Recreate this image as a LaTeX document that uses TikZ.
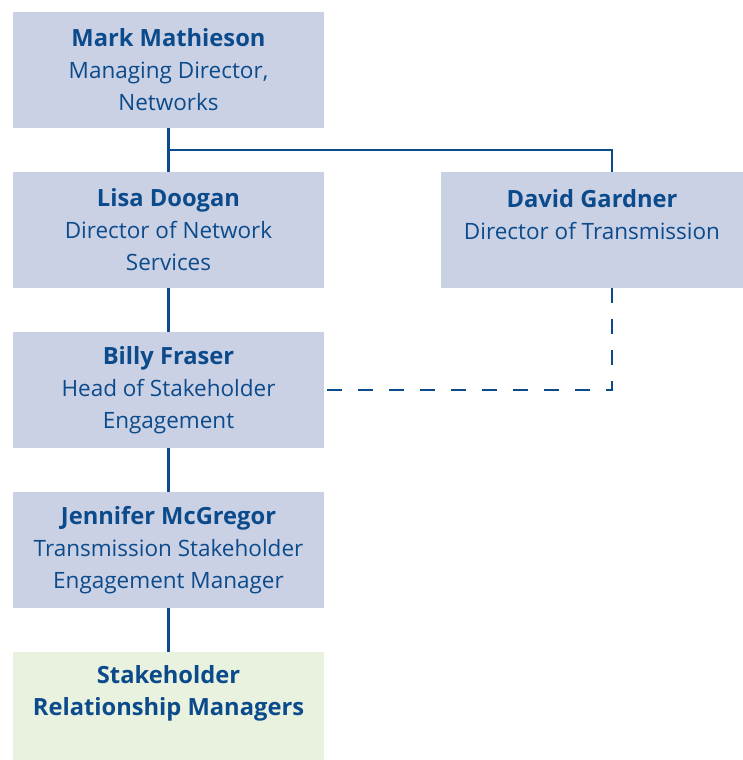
\documentclass[tikz,border=0pt]{standalone}
\usepackage{fontspec}
\setmainfont{Open Sans}
\usetikzlibrary{positioning}
\definecolor{navy}{HTML}{0B4A8B}
\definecolor{boxblue}{HTML}{CBD1E4}
\definecolor{boxgreen}{HTML}{E9F2DE}
\newcommand\who[1]{{\fontsize{23.7}{32}\selectfont\bfseries #1}}

\begin{document}
\begin{tikzpicture}[x=1pt, y=-1pt,
                    box/.style={fill=boxblue, text=navy, align=center, inner sep=0,
                                minimum width=311pt, minimum height=116pt,
                                font=\fontsize{22.5}{32}\selectfont},
                    link/.style={draw=navy, line width=2.8pt}]
                \useasboundingbox (0,0) rectangle (743,760);

                \node [box] (md) at (168.5,70) {\who{Mark Mathieson}\\Managing Director,\\Networks};
                \node [box] (dns) at (168.5,230) {\who{Lisa Doogan}\\Director of Network\\Services};
                \node [box, minimum width=302pt] (dtr) at (592,230) {\who{David Gardner}\\Director of Transmission\\\mbox{}};
                \node [box] (hse) at (168.5,390) {\who{Billy Fraser}\\Head of Stakeholder\\Engagement};
                \node [box] (tsem) at (168.5,550) {\who{Jennifer McGregor}\\Transmission Stakeholder\\Engagement Manager};
                \node [box, fill=boxgreen, minimum height=108pt] (srm) at (168.5,706) {\who{Stakeholder}\\\who{Relationship Managers}\\\mbox{}};

                \coordinate (split) at (168.5,150);
                \coordinate (dtrtop) at (612,172);
                \coordinate (dtrbot) at (612,288);

                \draw [link] (md) -- (dns);
                \draw [link] (split) -| (dtrtop);
                \draw [link, dash pattern=on 15pt off 16pt] (dtrbot) |- (hse.east);
                \draw [link] (dns) -- (hse);
                \draw [link] (hse) -- (tsem);
                \draw [link] (tsem) -- (srm);
            \end{tikzpicture}
\end{document}
